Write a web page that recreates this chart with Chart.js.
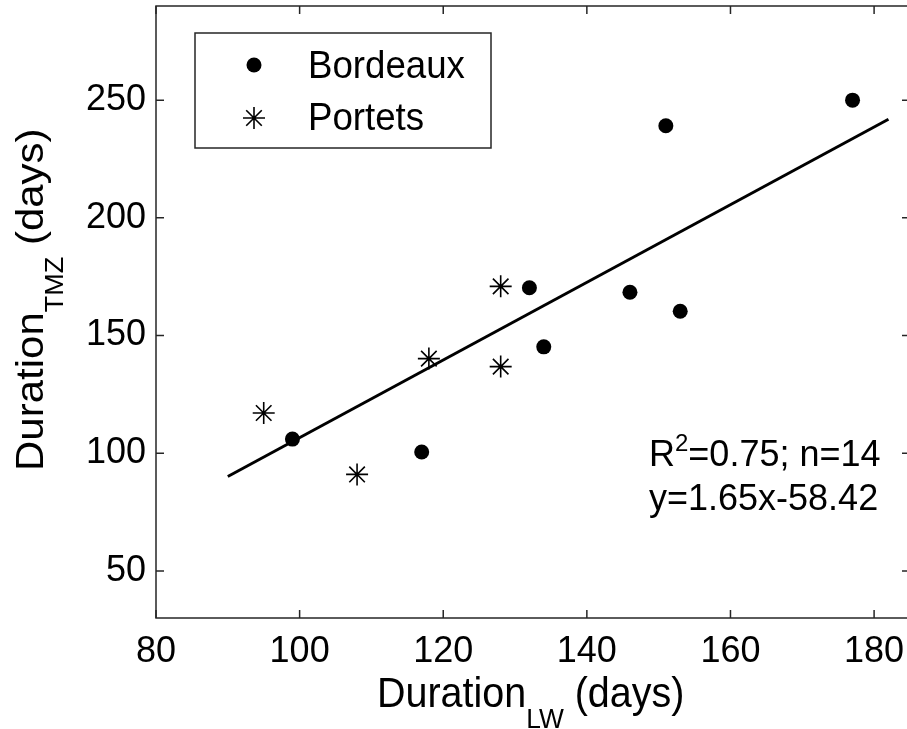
<!DOCTYPE html>
<html>
<head>
<meta charset="utf-8">
<script src="https://cdn.jsdelivr.net/npm/chart.js@4.4.1/dist/chart.umd.min.js"></script>
<style>
  html, body { margin: 0; padding: 0; background: #fff; overflow: hidden; }
  #wrap { width: 911px; height: 729px; }
</style>
</head>
<body>
<div id="wrap"><canvas id="chart" width="911" height="729"></canvas></div>
<script>
// values
const bordeauxX = [99, 117, 132, 134, 146, 151, 153, 177];
const bordeauxY = [106, 100.5, 170.3, 145.2, 168.4, 239.1, 160.3, 250];
const portetsX = [95, 108, 118, 128, 128];
const portetsY = [117.1, 91, 140.2, 170.9, 136.8];
const fitX = [90, 182];
const fitY = [90.1, 241.9];
const xTicks = [80, 100, 120, 140, 160, 180];
const yTicks = [50, 100, 150, 200, 250];
const seriesNames = ['Bordeaux', 'Portets'];
const statLine = ['R', '2', '=0.75; n=14'];
const eqLine = 'y=1.65x-58.42';
const xTitle = ['Duration', 'LW', ' (days)'];
const yTitle = ['Duration', 'TMZ', ' (days)'];

const FONT = '"Liberation Sans", Arial, sans-serif';
const INK = '#000';
const AXIS = '#262626';
const SQ = 0.94; // source figure is a little narrower than tall

const toPoints = (xs, ys) => xs.map((v, i) => ({ x: v, y: ys[i] }));

const drawDot = (ctx, x, y) => {
    ctx.beginPath();
    ctx.arc(x, y, 7.5, 0, Math.PI * 2);
    ctx.fill();
};

const drawStar = (ctx, x, y) => {
    const r = 11, d = r * Math.SQRT1_2;
    ctx.beginPath();
    ctx.moveTo(x, y - r); ctx.lineTo(x, y + r);
    ctx.moveTo(x - r, y); ctx.lineTo(x + r, y);
    ctx.moveTo(x - d, y - d); ctx.lineTo(x + d, y + d);
    ctx.moveTo(x - d, y + d); ctx.lineTo(x + d, y - d);
    ctx.stroke();
};

// main text + subscript + rest, drawn along the current x direction
const drawTitle = (ctx, parts, big, small, drop) => {
    let x = 0;
    ctx.font = big + 'px ' + FONT;
    ctx.fillText(parts[0], x, 0);
    x += ctx.measureText(parts[0]).width;
    ctx.font = small + 'px ' + FONT;
    ctx.fillText(parts[1], x, drop);
    x += ctx.measureText(parts[1]).width;
    ctx.font = big + 'px ' + FONT;
    ctx.fillText(parts[2], x, 0);
};

const framePlugin = {
    id: 'frame',
    afterDraw(chart) {
        const { ctx, chartArea: a, scales: { x, y } } = chart;
        ctx.save();

        // box + inward ticks on all sides
        ctx.strokeStyle = AXIS;
        ctx.lineWidth = 1.5;
        ctx.strokeRect(a.left, a.top, a.right - a.left, a.bottom - a.top);
        ctx.beginPath();
        xTicks.forEach(v => {
            const px = x.getPixelForValue(v);
            ctx.moveTo(px, a.bottom); ctx.lineTo(px, a.bottom - 8);
            ctx.moveTo(px, a.top); ctx.lineTo(px, a.top + 8);
        });
        yTicks.forEach(v => {
            const py = y.getPixelForValue(v);
            ctx.moveTo(a.left, py); ctx.lineTo(a.left + 8, py);
            ctx.moveTo(a.right, py); ctx.lineTo(a.right - 8, py);
        });
        ctx.stroke();

        // legend box
        ctx.fillStyle = '#fff';
        ctx.fillRect(195, 33, 296, 115);
        ctx.strokeRect(195, 33, 296, 115);
        ctx.fillStyle = INK;
        ctx.strokeStyle = INK;
        ctx.lineWidth = 1.6;
        drawDot(ctx, 254, 65);
        drawStar(ctx, 254, 118);
        ctx.textBaseline = 'alphabetic';
        ctx.textAlign = 'left';
        ctx.font = '39px ' + FONT;
        [[78, seriesNames[0]], [130, seriesNames[1]]].forEach(([by, t]) => {
            ctx.save();
            ctx.translate(308, by);
            ctx.scale(SQ, 1);
            ctx.fillText(t, 0, 0);
            ctx.restore();
        });

        // stats text
        let tx = 649;
        ctx.font = '36px ' + FONT;
        ctx.fillText(statLine[0], tx, 466);
        tx += ctx.measureText(statLine[0]).width;
        ctx.font = '24px ' + FONT;
        ctx.fillText(statLine[1], tx, 451);
        tx += ctx.measureText(statLine[1]).width;
        ctx.font = '36px ' + FONT;
        ctx.fillText(statLine[2], tx, 466);
        ctx.fillText(eqLine, 649, 510);

        // x title
        ctx.save();
        ctx.translate(377, 707);
        ctx.scale(SQ, 1);
        drawTitle(ctx, xTitle, 42, 28, 21);
        ctx.restore();

        // y title, rotated
        ctx.save();
        ctx.translate(43, 471);
        ctx.rotate(-Math.PI / 2);
        ctx.scale(1, SQ);
        drawTitle(ctx, yTitle, 42, 27, 21);
        ctx.restore();

        ctx.restore();
    }
};

const tickFont = { family: FONT, size: 36 };

new Chart(document.getElementById('chart'), {
    type: 'scatter',
    data: {
        datasets: [
            {
                label: seriesNames[0],
                data: toPoints(bordeauxX, bordeauxY),
                pointStyle: 'circle',
                pointRadius: 7.5,
                backgroundColor: INK,
                borderColor: INK,
                borderWidth: 0
            },
            {
                label: seriesNames[1],
                data: toPoints(portetsX, portetsY),
                pointStyle: 'star',
                pointRadius: 11,
                backgroundColor: INK,
                borderColor: INK,
                borderWidth: 1.6
            },
            {
                type: 'line',
                label: 'fit',
                data: toPoints(fitX, fitY),
                borderColor: INK,
                borderWidth: 3,
                pointRadius: 0,
                fill: false
            }
        ]
    },
    options: {
        responsive: false,
        animation: false,
        layout: { autoPadding: false, padding: { top: 6, right: 1, left: 0, bottom: 0 } },
        plugins: { legend: { display: false }, tooltip: { enabled: false } },
        scales: {
            x: {
                type: 'linear',
                min: 80,
                max: 185,
                afterBuildTicks: s => { s.ticks = xTicks.map(v => ({ value: v })); },
                afterFit: s => { s.height = 111; s.paddingLeft = 0; s.paddingRight = 0; },
                grid: { display: false, drawTicks: false },
                border: { display: false },
                ticks: { font: tickFont, color: INK, padding: 12, maxRotation: 0, autoSkip: false }
            },
            y: {
                type: 'linear',
                min: 30,
                max: 290,
                afterBuildTicks: s => { s.ticks = yTicks.map(v => ({ value: v })); },
                afterFit: s => { s.width = 156; s.paddingTop = 0; s.paddingBottom = 0; },
                grid: { display: false, drawTicks: false },
                border: { display: false },
                ticks: { font: tickFont, color: INK, padding: 10, autoSkip: false }
            }
        }
    },
    plugins: [framePlugin]
});
</script>
</body>
</html>
